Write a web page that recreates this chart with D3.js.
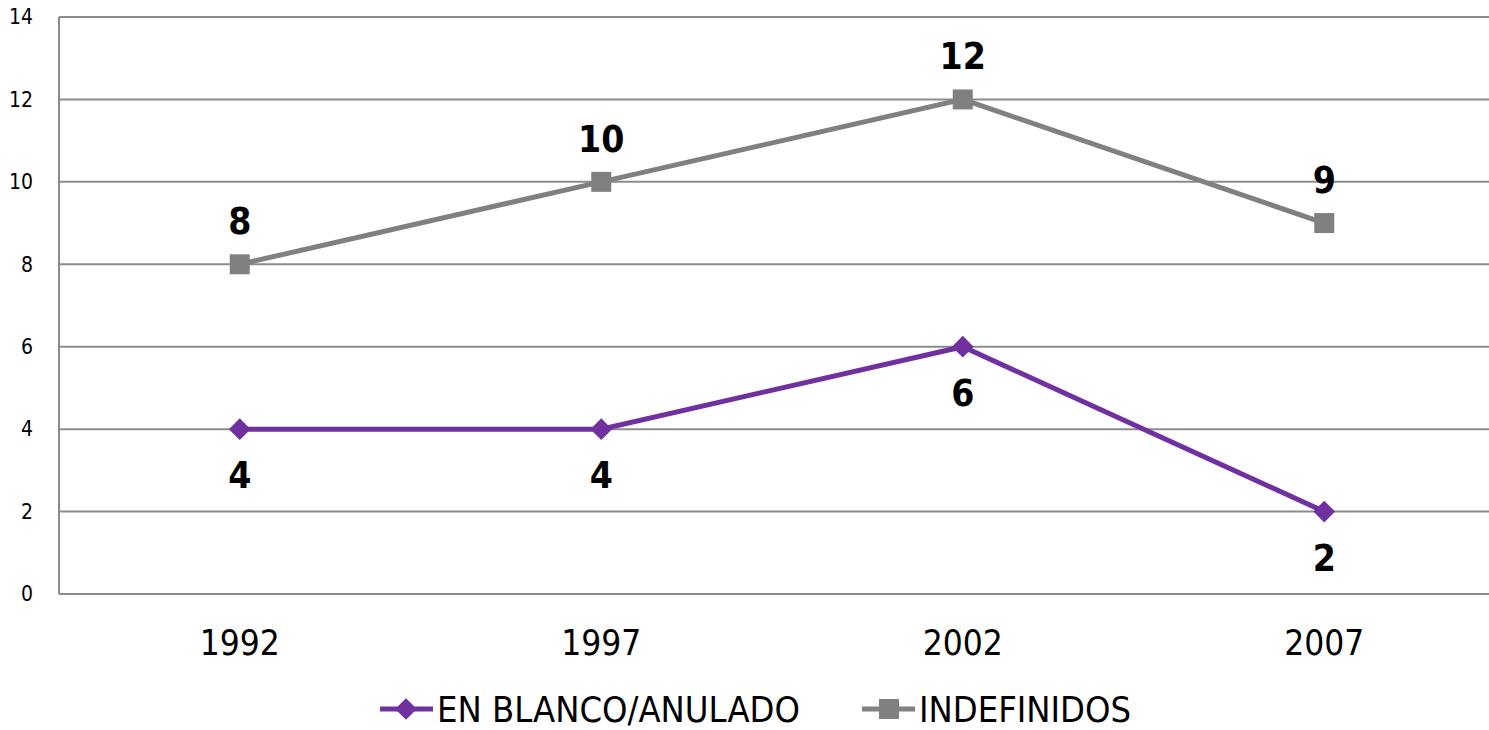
<!DOCTYPE html>
<html>
<head>
<meta charset="utf-8">
<script src="https://cdn.jsdelivr.net/npm/d3@7"></script>
<style>
  body { margin: 0; background: #fff; }
  text { font-family: "DejaVu Sans Condensed", "DejaVu Sans", sans-serif; }
</style>
</head>
<body>
<script>
// chart data
var years = ["1992", "1997", "2002", "2007"];
var blanco = [4, 4, 6, 2];
var indefinidos = [8, 10, 12, 9];
var yTicks = [0, 2, 4, 6, 8, 10, 12, 14];
var seriesNames = ["EN BLANCO/ANULADO", "INDEFINIDOS"];

var W = 1489, H = 730;
var purple = "#7030A0", gray = "#808080";

var svg = d3.select("body").append("svg")
    .attr("width", W).attr("height", H);

var x = d3.scaleBand().domain(years).range([59, 1505]);
var y = d3.scaleLinear().domain([0, 14]).range([594, 17]);
var cx = function(d, i) { return x(years[i]) + x.bandwidth() / 2; };

// gridlines
svg.append("g").selectAll("line")
    .data(yTicks)
    .join("line")
    .attr("x1", 59).attr("x2", W)
    .attr("y1", d => y(d)).attr("y2", d => y(d))
    .attr("stroke", "#8c8c8c").attr("stroke-width", 2);

// y axis line
svg.append("line")
    .attr("x1", 59).attr("x2", 59)
    .attr("y1", y(14)).attr("y2", y(0))
    .attr("stroke", "#8c8c8c").attr("stroke-width", 2);

// y tick labels
svg.append("g").selectAll("text")
    .data(yTicks)
    .join("text")
    .attr("x", 33).attr("y", d => y(d))
    .attr("dy", "0.35em")
    .attr("text-anchor", "end")
    .attr("font-size", 21)
    .text(d => d);

// x tick labels
svg.append("g").selectAll("text")
    .data(years)
    .join("text")
    .attr("x", d => x(d) + x.bandwidth() / 2)
    .attr("y", 655)
    .attr("text-anchor", "middle")
    .attr("font-size", 35)
    .text(d => d);

var line = d3.line().x(cx).y(d => y(d));

// INDEFINIDOS
svg.append("path").datum(indefinidos)
    .attr("d", line).attr("fill", "none")
    .attr("stroke", gray).attr("stroke-width", 5);
svg.append("g").selectAll("rect")
    .data(indefinidos)
    .join("rect")
    .attr("x", (d, i) => cx(d, i) - 10).attr("y", d => y(d) - 10)
    .attr("width", 20).attr("height", 20)
    .attr("fill", gray);
svg.append("g").selectAll("text")
    .data(indefinidos)
    .join("text")
    .attr("x", cx).attr("y", d => y(d) - 30)
    .attr("text-anchor", "middle")
    .attr("font-size", 37).attr("font-weight", "bold")
    .text(d => d);

// EN BLANCO/ANULADO
var diamond = d3.symbol().type(d3.symbolDiamond2).size(300);
svg.append("path").datum(blanco)
    .attr("d", line).attr("fill", "none")
    .attr("stroke", purple).attr("stroke-width", 5);
svg.append("g").selectAll("path")
    .data(blanco)
    .join("path")
    .attr("d", diamond)
    .attr("transform", (d, i) => "translate(" + cx(d, i) + "," + y(d) + ")")
    .attr("fill", purple);
svg.append("g").selectAll("text")
    .data(blanco)
    .join("text")
    .attr("x", cx).attr("y", d => y(d) + 59)
    .attr("text-anchor", "middle")
    .attr("font-size", 37).attr("font-weight", "bold")
    .text(d => d);

// legend
var leg = [
  {name: seriesNames[0], color: purple, x: 380, mark: "diamond"},
  {name: seriesNames[1], color: gray, x: 862, mark: "square"}
];
var ly = 709;
leg.forEach(function(l) {
  var g = svg.append("g");
  g.append("line").attr("x1", l.x).attr("x2", l.x + 53)
    .attr("y1", ly).attr("y2", ly)
    .attr("stroke", l.color).attr("stroke-width", 5);
  if (l.mark == "diamond") {
    g.append("path").attr("d", diamond)
      .attr("transform", "translate(" + (l.x + 26) + "," + ly + ")")
      .attr("fill", l.color);
  } else {
    g.append("rect").attr("x", l.x + 17).attr("y", ly - 10)
      .attr("width", 20).attr("height", 20).attr("fill", l.color);
  }
  g.append("text").attr("x", l.x + 57).attr("y", ly)
    .attr("dy", "0.36em")
    .attr("font-size", 36)
    .text(l.name);
});
</script>
</body>
</html>
